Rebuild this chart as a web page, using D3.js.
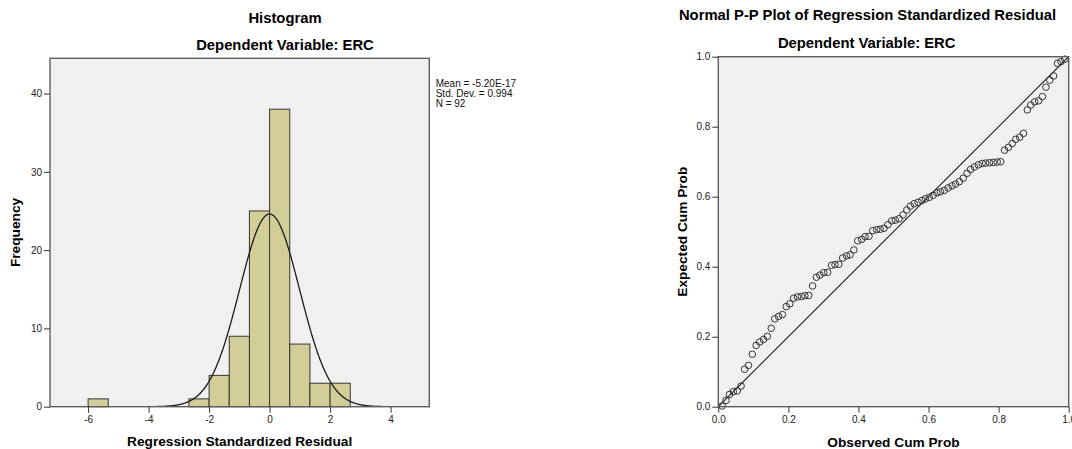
<!DOCTYPE html>
<html>
<head>
<meta charset="utf-8">
<script src="https://cdnjs.cloudflare.com/ajax/libs/d3/7.8.5/d3.min.js"></script>
<style>
  html, body { margin: 0; padding: 0; background: #fff; }
  svg { display: block; font-family: Arial, "Liberation Sans", sans-serif; }
</style>
</head>
<body>
<div id="chart"></div>
<script>
// histogram of standardized residuals (bin width 2/3)
var binLower = [-6, -8/3, -2, -4/3, -2/3, 0, 2/3, 4/3, 2];
var binCounts = [1, 1, 4, 9, 25, 38, 8, 3, 3];
var binWidth = 2/3;
var histXTicks = [-6, -4, -2, 0, 2, 4];
var histYTicks = [0, 10, 20, 30, 40];
var residMean = -5.20e-17, residSd = 0.994, residN = 92;
var statLines = ['Mean = -5.20E-17', 'Std. Dev. = 0.994', 'N = 92'];

// normal P-P plot
var observedCum = [
	0.011, 0.022, 0.032, 0.043, 0.054, 0.065, 0.075, 0.086, 0.097, 0.108,
	0.118, 0.129, 0.140, 0.151, 0.161, 0.172, 0.183, 0.194, 0.204, 0.215,
	0.226, 0.237, 0.247, 0.258, 0.269, 0.280, 0.290, 0.301, 0.312, 0.323,
	0.333, 0.344, 0.355, 0.366, 0.376, 0.387, 0.398, 0.409, 0.419, 0.430,
	0.441, 0.452, 0.462, 0.473, 0.484, 0.495, 0.505, 0.516, 0.527, 0.538,
	0.548, 0.559, 0.570, 0.581, 0.591, 0.602, 0.613, 0.624, 0.634, 0.645,
	0.656, 0.667, 0.677, 0.688, 0.699, 0.710, 0.720, 0.731, 0.742, 0.753,
	0.763, 0.774, 0.785, 0.796, 0.806, 0.817, 0.828, 0.839, 0.849, 0.860,
	0.871, 0.882, 0.892, 0.903, 0.914, 0.925, 0.935, 0.946, 0.957, 0.968,
	0.978, 0.989
];
var expectedCum = [
	0.002, 0.018, 0.035, 0.043, 0.045, 0.059, 0.107, 0.118, 0.150, 0.175,
	0.185, 0.192, 0.201, 0.224, 0.251, 0.258, 0.263, 0.286, 0.294, 0.310,
	0.314, 0.315, 0.317, 0.318, 0.345, 0.370, 0.376, 0.383, 0.384, 0.404,
	0.406, 0.407, 0.425, 0.431, 0.434, 0.448, 0.474, 0.478, 0.486, 0.487,
	0.503, 0.506, 0.507, 0.510, 0.520, 0.531, 0.533, 0.537, 0.548, 0.562,
	0.573, 0.580, 0.584, 0.589, 0.594, 0.598, 0.604, 0.611, 0.614, 0.618,
	0.625, 0.631, 0.636, 0.643, 0.653, 0.667, 0.678, 0.685, 0.691, 0.695,
	0.696, 0.697, 0.698, 0.699, 0.700, 0.733, 0.741, 0.752, 0.764, 0.770,
	0.781, 0.848, 0.862, 0.871, 0.874, 0.886, 0.913, 0.933, 0.945, 0.981,
	0.986, 0.993
];
var ppTicks = [0, 0.2, 0.4, 0.6, 0.8, 1.0];

var width = 1072, height = 449;
var svg = d3.select('#chart').append('svg')
	.attr('width', width)
	.attr('height', height);

function styleAxis(g) {
	g.select('.domain').remove();
	g.selectAll('.tick line').attr('stroke', '#333').attr('stroke-width', 1);
	g.selectAll('.tick text').attr('fill', '#222').style('font-size', '10px');
}

function drawFrame(g, left, top, right, bottom) {
	g.append('rect')
		.attr('x', left).attr('y', top)
		.attr('width', right - left).attr('height', bottom - top)
		.attr('fill', '#f0f0f0');
}

function drawFrameBorder(g, left, top, right, bottom) {
	g.append('rect')
		.attr('x', left).attr('y', top)
		.attr('width', right - left).attr('height', bottom - top)
		.attr('fill', 'none')
		.attr('stroke', '#5e5e5e')
		.attr('stroke-width', 1.4);
}

function drawHistogram() {
	var left = 50, right = 429.3, top = 58.3, bottom = 406.7;
	var g = svg.append('g');

	var x = d3.scaleLinear().domain([-7.26, 5.28]).range([left, right]);
	var y = d3.scaleLinear().domain([0, 44.5]).range([bottom, top]);

	drawFrame(g, left, top, right, bottom);

	g.append('clipPath').attr('id', 'hist-clip')
		.append('rect').attr('x', left).attr('y', top)
		.attr('width', right - left).attr('height', bottom - top);

	g.selectAll('.bar')
		.data(binLower.map((d, i) => ({lo: d, count: binCounts[i]})))
		.enter()
		.append('rect').attr('class', 'bar')
		.attr('x', d => x(d.lo))
		.attr('width', d => x(d.lo + binWidth) - x(d.lo))
		.attr('y', d => y(d.count))
		.attr('height', d => y(0) - y(d.count))
		.attr('fill', '#d3ce97')
		.attr('stroke', '#353535')
		.attr('stroke-width', 1);

	// fitted normal curve scaled to counts
	var xs = d3.range(-7.26, 5.29, 0.02);
	var curve = xs.map(v => [v, residN * binWidth * Math.exp(-0.5 * Math.pow((v - residMean) / residSd, 2)) / (residSd * Math.sqrt(2 * Math.PI))]);
	g.append('path')
		.datum(curve)
		.attr('clip-path', 'url(#hist-clip)')
		.attr('fill', 'none')
		.attr('stroke', '#1a1a1a')
		.attr('stroke-width', 1.3)
		.attr('d', d3.line().x(d => x(d[0])).y(d => y(d[1])));

	drawFrameBorder(g, left, top, right, bottom);

	g.append('g')
		.attr('transform', `translate(${left},0)`)
		.call(d3.axisLeft(y).tickValues(histYTicks).tickSize(6).tickPadding(2).tickFormat(d => String(d)))
		.call(styleAxis);

	g.append('g')
		.attr('transform', `translate(0,${bottom})`)
		.call(d3.axisBottom(x).tickValues(histXTicks).tickSize(6).tickPadding(3).tickFormat(d => String(d)))
		.call(styleAxis);

	// titles
	g.append('text').attr('x', 285).attr('y', 22.6)
		.attr('text-anchor', 'middle').style('font-size', '14.8px').style('font-weight', 'bold')
		.text('Histogram');
	g.append('text').attr('x', 285).attr('y', 50.2)
		.attr('text-anchor', 'middle').style('font-size', '14.8px').style('font-weight', 'bold')
		.text('Dependent Variable: ERC');

	g.append('text').attr('x', (left + right) / 2).attr('y', 445.5)
		.attr('text-anchor', 'middle').style('font-size', '13.7px').style('font-weight', 'bold')
		.text('Regression Standardized Residual');
	g.append('text')
		.attr('transform', `translate(20,${(top + bottom) / 2}) rotate(-90)`)
		.attr('text-anchor', 'middle').style('font-size', '13.7px').style('font-weight', 'bold')
		.text('Frequency');

	// stats legend
	g.selectAll('.stat')
		.data(statLines)
		.enter()
		.append('text').attr('class', 'stat')
		.attr('x', 435.7)
		.attr('y', (d, i) => 86.9 + i * 10)
		.style('font-size', '10px')
		.attr('fill', '#111')
		.text(d => d);
}

function drawPPPlot() {
	var left = 718.3, right = 1068.7, top = 56.7, bottom = 406.7;
	var g = svg.append('g');

	var x = d3.scaleLinear().domain([0, 1]).range([left, right]);
	var y = d3.scaleLinear().domain([0, 1]).range([bottom, top]);

	drawFrame(g, left, top, right, bottom);

	// reference diagonal
	g.append('line')
		.attr('x1', x(0)).attr('y1', y(0))
		.attr('x2', x(1)).attr('y2', y(1))
		.attr('stroke', '#1a1a1a')
		.attr('stroke-width', 1.1);

	g.selectAll('.pt')
		.data(observedCum.map((d, i) => [d, expectedCum[i]]))
		.enter()
		.append('circle').attr('class', 'pt')
		.attr('cx', d => x(d[0]))
		.attr('cy', d => y(d[1]))
		.attr('r', 3.3)
		.attr('fill', 'none')
		.attr('stroke', '#333')
		.attr('stroke-width', 1);

	drawFrameBorder(g, left, top, right, bottom);

	g.append('g')
		.attr('transform', `translate(${left},0)`)
		.call(d3.axisLeft(y).tickValues(ppTicks).tickSize(6).tickPadding(2).tickFormat(d3.format('.1f')))
		.call(styleAxis);

	g.append('g')
		.attr('transform', `translate(0,${bottom})`)
		.call(d3.axisBottom(x).tickValues(ppTicks).tickSize(6).tickPadding(3).tickFormat(d3.format('.1f')))
		.call(styleAxis);

	g.append('text').attr('x', 867.5).attr('y', 20.4)
		.attr('text-anchor', 'middle').style('font-size', '14.8px').style('font-weight', 'bold')
		.text('Normal P-P Plot of Regression Standardized Residual');
	g.append('text').attr('x', 866.7).attr('y', 48)
		.attr('text-anchor', 'middle').style('font-size', '14.8px').style('font-weight', 'bold')
		.text('Dependent Variable: ERC');

	g.append('text').attr('x', (left + right) / 2).attr('y', 446.5)
		.attr('text-anchor', 'middle').style('font-size', '13.7px').style('font-weight', 'bold')
		.text('Observed Cum Prob');
	g.append('text')
		.attr('transform', `translate(686.5,${(top + bottom) / 2}) rotate(-90)`)
		.attr('text-anchor', 'middle').style('font-size', '13.7px').style('font-weight', 'bold')
		.text('Expected Cum Prob');
}

drawHistogram();
drawPPPlot();
</script>
</body>
</html>
